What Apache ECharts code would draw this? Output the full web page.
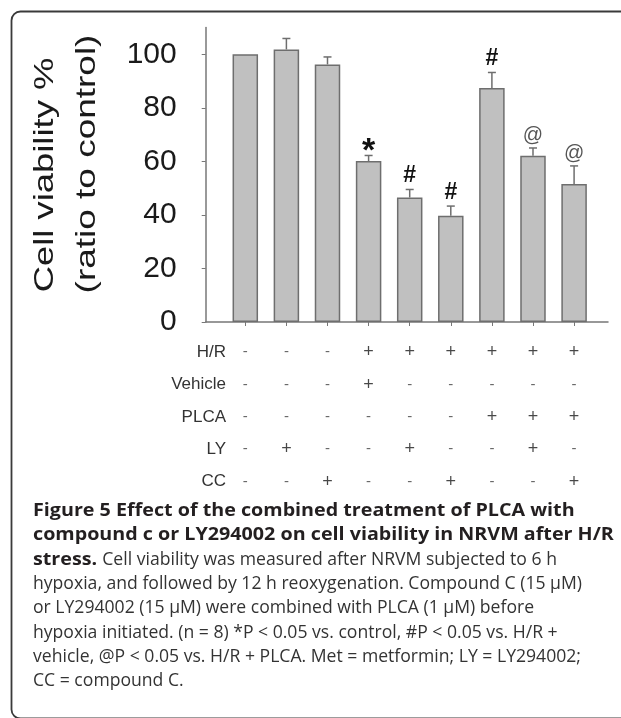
<!DOCTYPE html>
<html>
<head>
<meta charset="utf-8">
<script src="https://cdn.jsdelivr.net/npm/echarts@6/dist/echarts.min.js"></script>
<style>html,body{margin:0;padding:0;background:#fff;}#chart{width:621px;height:718px;}</style>
</head>
<body>
<div id="chart"></div>
<script>
// ---- data ----
const groups = [0, 1, 2, 3, 4, 5, 6, 7, 8];
const values = [100, 101.8, 96.2, 60.1, 46.5, 39.7, 87.4, 62.1, 51.5];
const errors = [0, 4.1, 2.8, 2.1, 3.0, 3.6, 5.8, 2.9, 6.8];
const marks = ['', '', '', '*', '#', '#', '#', '@', '@'];
const yTicks = [0, 20, 40, 60, 80, 100];
const rowLabels = ['H/R', 'Vehicle', 'PLCA', 'LY', 'CC'];
const rowSigns = [
  ['-', '-', '-', '+', '+', '+', '+', '+', '+'],
  ['-', '-', '-', '+', '-', '-', '-', '-', '-'],
  ['-', '-', '-', '-', '-', '-', '+', '+', '+'],
  ['-', '+', '-', '-', '+', '-', '-', '+', '-'],
  ['-', '-', '+', '-', '-', '+', '-', '-', '+']
];
const yTitle1 = 'Cell viability %';
const yTitle2 = '(ratio to control)';
// each caption line: [bold part, normal part]
const captionLines = [
  ['Figure 5 Effect of the combined treatment of PLCA with', ''],
  ['compound c or LY294002 on cell viability in NRVM after H/R', ''],
  ['stress.', 'Cell viability was measured after NRVM subjected to 6 h'],
  ['', 'hypoxia, and followed by 12 h reoxygenation. Compound C (15 μM)'],
  ['', 'or LY294002 (15 μM) were combined with PLCA (1 μM) before'],
  ['', 'hypoxia initiated. (n = 8) *P < 0.05 vs. control, #P < 0.05 vs. H/R +'],
  ['', 'vehicle, @P < 0.05 vs. H/R + PLCA. Met = metformin; LY = LY294002;'],
  ['', 'CC = compound C.']
];

// ---- styling ----
const AXIS_COLOR = '#777';
const X_MIN = -0.9635, X_MAX = 8.825;
const CAP_FONT = 17.6;
const BOLD_SCALE = 1.12;
const MARK_STYLE = {
  '*': { size: 34, weight: 'bold', color: '#111', gap: 3.6 },
  '#': { size: 23, weight: 'bold', color: '#111', gap: 13.5 },
  '@': { size: 20, weight: 'normal', color: '#555', gap: 12.2 }
};

const chart = echarts.init(document.getElementById('chart'), null, { renderer: 'canvas' });

const signData = [];
rowSigns.forEach((row, r) => row.forEach((s, c) => signData.push([groups[c], r, s])));

// measure text widths for placing normal text after bold part
const mctx = document.createElement('canvas').getContext('2d');
function textWidth(t, weight) {
  mctx.font = weight + ' ' + CAP_FONT + 'px "Open Sans"';
  return mctx.measureText(t).width;
}

const captionGraphics = [];
captionLines.forEach((ln, i) => {
  const y = 511 + i * 24.3;
  let x = 33;
  if (ln[0]) {
    captionGraphics.push({
      type: 'text', x: x, y: y, scaleX: BOLD_SCALE, silent: true,
      style: { text: ln[0], fontFamily: '"Open Sans", sans-serif', fontSize: CAP_FONT, fontWeight: 'bold', fill: '#231f20', align: 'left', verticalAlign: 'middle' }
    });
    x += textWidth(ln[0] + ' ', 'bold') * BOLD_SCALE;
  }
  if (ln[1]) {
    captionGraphics.push({
      type: 'text', x: x, y: y, silent: true,
      style: { text: ln[1], fontFamily: '"Open Sans", sans-serif', fontSize: CAP_FONT, fontWeight: 'normal', fill: '#333', align: 'left', verticalAlign: 'middle' }
    });
  }
});

const option = {
  animation: false,
  backgroundColor: '#fff',
  grid: [
    { left: 205.7, top: 27.5, width: 402.3, height: 294.5, containLabel: false },
    { left: 205.7, top: 336.1, width: 402.3, height: 161.7, containLabel: false }
  ],
  xAxis: [
    {
      type: 'value', gridIndex: 0, min: X_MIN, max: X_MAX,
      axisLine: { show: true, onZero: false, lineStyle: { color: AXIS_COLOR, width: 1.5 } },
      axisTick: { show: true, length: 4, customValues: groups, lineStyle: { color: AXIS_COLOR, width: 1 } },
      axisLabel: { show: false },
      splitLine: { show: false }
    },
    {
      type: 'value', gridIndex: 1, min: X_MIN, max: X_MAX, show: false
    }
  ],
  yAxis: [
    {
      type: 'value', gridIndex: 0, min: 0, max: 110, interval: 20,
      axisLine: { show: true, onZero: false, lineStyle: { color: AXIS_COLOR, width: 1.5 } },
      axisTick: { show: true, length: 4, customValues: yTicks, lineStyle: { color: AXIS_COLOR, width: 1 } },
      axisLabel: {
        customValues: yTicks, margin: 29, fontSize: 30,
        fontFamily: '"Liberation Sans", Arial, sans-serif', color: '#1a1a1a'
      },
      splitLine: { show: false }
    },
    {
      type: 'category', gridIndex: 1, data: rowLabels, inverse: true,
      axisLine: { show: false }, axisTick: { show: false }, splitLine: { show: false },
      axisLabel: {
        margin: -20.3, fontSize: 17, align: 'right',
        fontFamily: '"Liberation Sans", Arial, sans-serif', color: '#333'
      }
    }
  ],
  series: [
    {
      type: 'bar', xAxisIndex: 0, yAxisIndex: 0,
      data: groups.map((g, i) => [g, values[i]]),
      barWidth: 25.5,
      itemStyle: { color: '#c0c0c0', borderColor: '#6e6e6e', borderWidth: 1.5 },
      emphasis: { disabled: true },
      silent: true
    },
    {
      type: 'custom', xAxisIndex: 0, yAxisIndex: 0,
      data: groups.map((g, i) => [g, values[i], errors[i]]),
      clip: false,
      silent: true,
      renderItem: function (params, api) {
        const i = params.dataIndex;
        const x = api.value(0), v = api.value(1), e = api.value(2);
        const p0 = api.coord([x, v]);
        const p1 = api.coord([x, v + e]);
        const children = [];
        if (e > 0) {
          children.push({ type: 'line', shape: { x1: p0[0], y1: p0[1], x2: p1[0], y2: p1[1] }, style: { stroke: '#6e6e6e', lineWidth: 1.5 } });
          children.push({ type: 'line', shape: { x1: p1[0] - 4, y1: p1[1], x2: p1[0] + 4, y2: p1[1] }, style: { stroke: '#6e6e6e', lineWidth: 1.5 } });
        }
        const m = marks[i];
        if (m) {
          const st = MARK_STYLE[m];
          children.push({
            type: 'text',
            x: p1[0], y: p1[1] - st.gap,
            style: {
              text: m, fontSize: st.size, fontWeight: st.weight,
              fontFamily: '"Liberation Sans", Arial, sans-serif',
              fill: st.color, align: 'center', verticalAlign: 'middle'
            }
          });
        }
        return { type: 'group', children: children };
      }
    },
    {
      type: 'scatter', xAxisIndex: 1, yAxisIndex: 1,
      data: signData,
      symbolSize: 1,
      itemStyle: { color: 'transparent' },
      silent: true,
      emphasis: { disabled: true },
      label: {
        show: true, position: 'inside',
        formatter: function (p) { return p.value[2] === '+' ? '{p|+}' : '{m|-}'; },
        rich: {
          p: { fontSize: 18, color: '#1a1a1a', fontFamily: '"Liberation Sans", Arial, sans-serif' },
          m: { fontSize: 15, color: '#444', fontFamily: '"Liberation Sans", Arial, sans-serif' }
        }
      }
    }
  ],
  graphic: [
    {
      type: 'rect', silent: true,
      shape: { x: 11.5, y: 11.5, width: 660, height: 707, r: 9 },
      style: { fill: 'none', stroke: '#3a3a3a', lineWidth: 1.8 }
    },
    {
      type: 'text', x: 45, y: 175, rotation: Math.PI / 2, scaleX: 1.3, silent: true,
      style: { text: yTitle1, fontSize: 28, fontFamily: '"Liberation Sans", Arial, sans-serif', fill: '#1a1a1a', align: 'center', verticalAlign: 'middle' }
    },
    {
      type: 'text', x: 87, y: 164, rotation: Math.PI / 2, scaleX: 1.32, silent: true,
      style: { text: yTitle2, fontSize: 28, fontFamily: '"Liberation Sans", Arial, sans-serif', fill: '#1a1a1a', align: 'center', verticalAlign: 'middle' }
    }
  ].concat(captionGraphics)
};

chart.setOption(option);
</script>
</body>
</html>
